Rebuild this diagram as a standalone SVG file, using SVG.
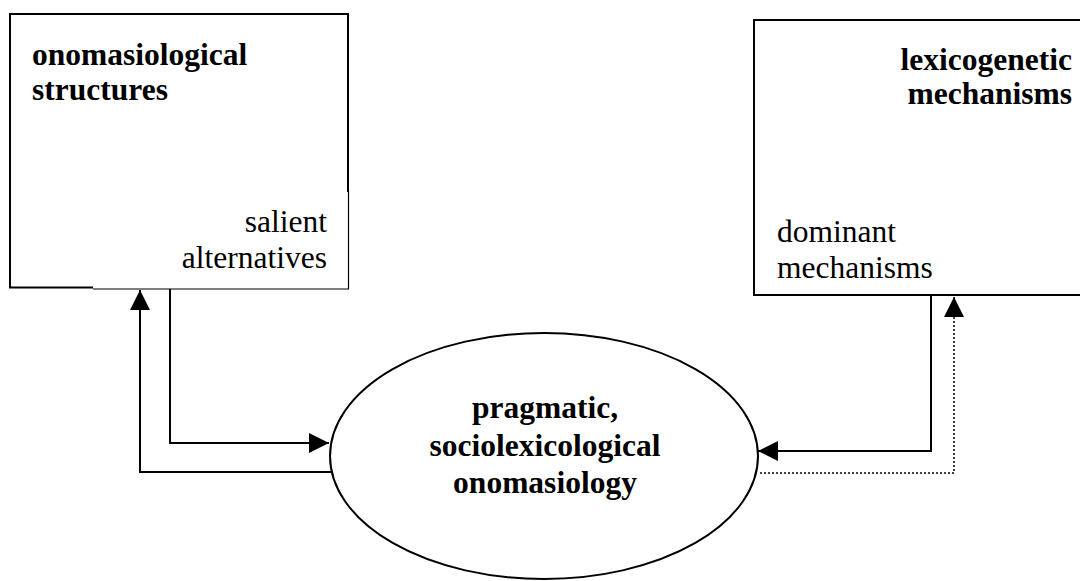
<svg xmlns="http://www.w3.org/2000/svg" width="1080" height="581" viewBox="0 0 1080 581">
<style>
.b{font-family:'Liberation Serif',serif;font-weight:bold;font-size:31.5px;fill:#000}
.r{font-family:'Liberation Serif',serif;font-size:31.5px;fill:#000}
.ln{fill:none;stroke:#000;stroke-width:2}
.dot{fill:none;stroke:#000;stroke-width:1.5;stroke-dasharray:2,2}
</style>
<defs>
<marker id="ah" markerWidth="20" markerHeight="20" refX="20" refY="10" orient="auto" markerUnits="userSpaceOnUse">
<path d="M0,0 L20,10 L0,20 Z" fill="#000"/>
</marker>
</defs>
<rect width="1080" height="581" fill="#fff"/>
<g id="box-onomasiological">
<path d="M93,287.5 L10,287.5 L10,14 L348,14 L348,192" fill="none" stroke="#000" stroke-width="2"/>
<path d="M93,289 L348.5,289 L348.5,190" fill="none" stroke="#000" stroke-width="1.2"/>
<text class="b" x="32" y="65">onomasiological</text>
<text class="b" x="32" y="100">structures</text>
<text class="r" x="327" y="232" text-anchor="end">salient</text>
<text class="r" x="327" y="268" text-anchor="end">alternatives</text>
</g>
<g id="box-lexicogenetic">
<path d="M1082,20 L754,20 L754,295 L1082,295" fill="none" stroke="#000" stroke-width="2"/>
<text class="b" x="1072" y="70" text-anchor="end">lexicogenetic</text>
<text class="b" x="1072" y="104" text-anchor="end">mechanisms</text>
<text class="r" x="777" y="242">dominant</text>
<text class="r" x="777" y="278">mechanisms</text>
</g>
<g id="ellipse-pragmatic">
<ellipse cx="544" cy="456" rx="214" ry="123" fill="none" stroke="#000" stroke-width="2"/>
<text class="b" x="545" y="418" text-anchor="middle">pragmatic,</text>
<text class="b" x="545" y="456" text-anchor="middle">sociolexicological</text>
<text class="b" x="545" y="493" text-anchor="middle">onomasiology</text>
</g>
<g id="connectors">
<path class="ln" d="M170,289 L170,443 L329,443" marker-end="url(#ah)"/>
<path class="ln" d="M331,472 L140,472 L140,290" marker-end="url(#ah)"/>
<path class="ln" d="M931,295 L931,451 L758,451" marker-end="url(#ah)"/>
<path class="dot" d="M760,473 L954,473 L954,297" marker-end="url(#ah)"/>
</g>
</svg>
